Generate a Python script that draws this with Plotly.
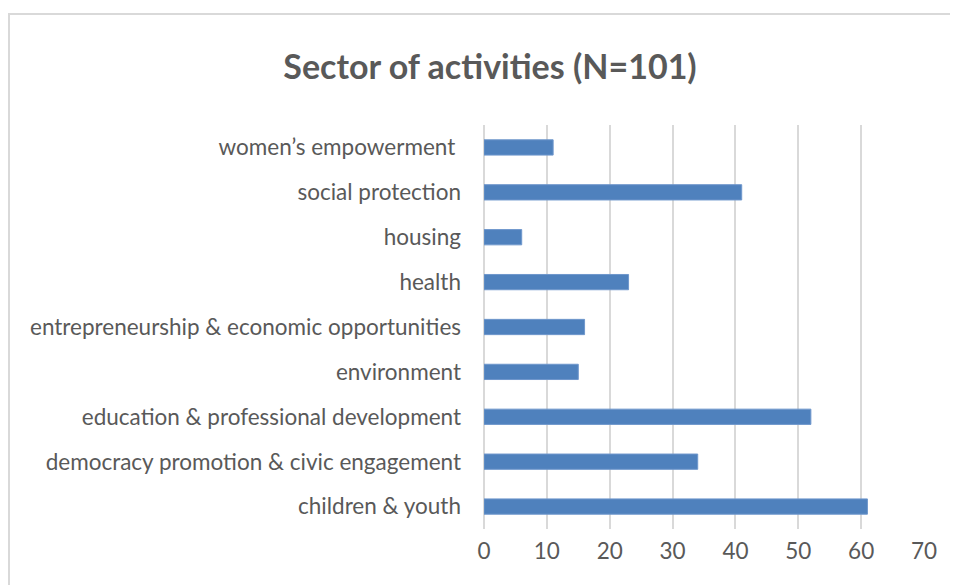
import plotly.graph_objects as go

categories = [
    "children & youth",
    "democracy promotion & civic engagement",
    "education & professional development",
    "environment",
    "entrepreneurship & economic opportunities",
    "health",
    "housing",
    "social protection",
    "women\u2019s empowerment ",
]
values = [61, 34, 52, 15, 16, 23, 6, 41, 11]
x_ticks = [0, 10, 20, 30, 40, 50, 60, 70]

OFF = 8  # page body margin
W, H = 958 - OFF, 585 - OFF
L, R, T, B = 484 - OFF, 34, 125 - OFF, 56
pw, ph = W - L - R, H - T - B

def px_x(p):
    return (p - OFF - L) / pw

def px_y(p):
    return (H - B - (p - OFF)) / ph

fig = go.Figure(go.Bar(
    x=values, y=categories, orientation="h",
    marker=dict(color="#4f81bd", line=dict(color="#6f97cc", width=1)),
    width=0.34,
))

fig.update_layout(
    width=W, height=H,
    margin=dict(l=L, r=R, t=T, b=B),
    paper_bgcolor="white", plot_bgcolor="white",
    showlegend=False,
    title=dict(text="<b>Sector of activities (N=101)</b>", x=(490 - OFF) / W, xanchor="center",
               y=1 - (67 - OFF) / H, yanchor="middle",
               font=dict(family="Lato", size=34, color="#595959")),
    font=dict(family="Lato", color="#595959"),
    xaxis=dict(range=[0, 70], tickvals=x_ticks, showgrid=True, gridcolor="#d9d9d9",
               gridwidth=2, zeroline=True, zerolinecolor="#d9d9d9", zerolinewidth=2,
               showline=False, ticks="", ticklabelstandoff=6,
               tickfont=dict(size=22.5, color="#595959")),
    yaxis=dict(showgrid=False, showline=False, ticks="", ticklabelstandoff=22,
               tickfont=dict(size=22.5, color="#595959")),
    shapes=[dict(type="rect", xref="paper", yref="paper",
                 x0=px_x(9), x1=px_x(1000), y0=px_y(620), y1=px_y(14),
                 line=dict(color="#d9d9d9", width=2), layer="below")],
)

fig.write_html("out.html")
